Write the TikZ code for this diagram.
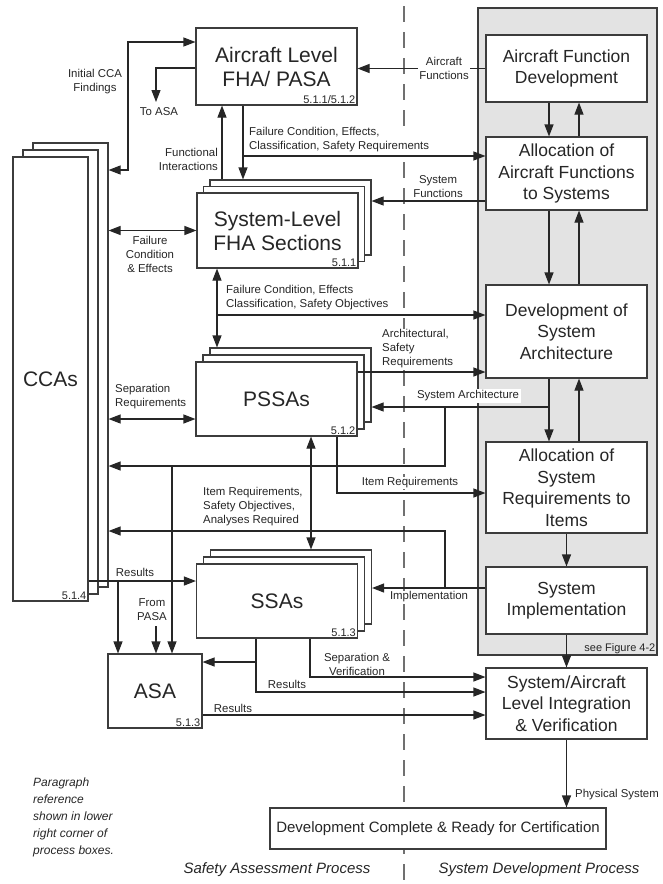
\documentclass[tikz,border=0pt]{standalone}
\usepackage{fontspec}
\setmainfont{Liberation Sans}
\usetikzlibrary{arrows.meta}
\definecolor{ink}{HTML}{262626}
\definecolor{edge}{HTML}{3C3C3C}
\definecolor{panel}{HTML}{E3E3E3}
\definecolor{divider}{HTML}{707070}

\begin{document}
\begin{tikzpicture}[x=1pt,y=-1pt,
  every node/.style={text=ink},
  box/.style={draw=edge, line width=1.1pt, fill=white, inner sep=0pt, align=center},
  bigtxt/.style={font=\fontsize{21}{24}\selectfont},
  midtxt/.style={font=\fontsize{17.5}{21.5}\selectfont},
  lbl/.style={font=\fontsize{11.4}{14}\selectfont, fill=white, inner sep=1pt, align=center},
  ref/.style={font=\fontsize{11}{13}\selectfont, inner sep=2pt, anchor=south east},
  wire/.style={draw=ink, line width=1.1pt},
  arr/.style={wire, -{Triangle[length=12pt,width=9pt]}},
  arrs/.style={wire, {Triangle[length=12pt,width=9pt]}-{Triangle[length=12pt,width=9pt]}},
  caption/.style={font=\fontsize{15}{18}\selectfont\itshape},
]
\useasboundingbox (0,0) rectangle (662,884);

% system development panel
\node[draw=edge, line width=1.1pt, fill=panel, minimum width=179pt, minimum height=647pt, inner sep=0pt] (panel) at (567.5,331.5) {};
\node[ref] at (panel.south east) {see Figure 4-2};

% divider between the two processes
\draw[divider, line width=1.2pt, dash pattern=on 16pt off 10pt] (404,6) -- (404,884);

% connector labels
\node[lbl] at (95,82) {Initial CCA\\Findings};
\node[lbl] at (159,112) {To ASA};
\node[lbl, anchor=east, align=right] at (219,159.5) {Functional\\Interactions};
\node[lbl, anchor=west, align=left] at (248,140) {Failure Condition, Effects,\\Classification, Safety Requirements};
\node[lbl] at (438,187) {System\\Functions};
\node[lbl] at (150,254) {Failure\\Condition\\\& Effects};
\node[lbl, anchor=west, align=left] at (225,297.5) {Failure Condition, Effects\\Classification, Safety Objectives};
\node[lbl, anchor=west, align=left] at (114,397) {Separation\\Requirements};
\node[lbl, anchor=west, align=left] at (381,349) {Architectural,\\Safety\\Requirements};
\node[lbl, inner sep=2pt] at (468,396) {System Architecture};
\node[lbl] at (410,483) {Item Requirements};
\node[lbl, anchor=west, align=left] at (202,506.5) {Item Requirements,\\Safety Objectives,\\Analyses Required};
\node[lbl] at (429,597) {Implementation};
\node[lbl] at (135,572) {Results};
\node[lbl] at (152,610) {From\\PASA};
\node[lbl] at (357,664) {Separation \&\\Verification};
\node[lbl] at (287,684) {Results};
\node[lbl] at (233,708) {Results};
\node[lbl, anchor=west] at (574,795) {Physical System};

% safety assessment boxes
\node[box, minimum width=75pt, minimum height=444pt] (ccaB) at (70.5,365) {};
\node[box, minimum width=75pt, minimum height=444pt] (ccaM) at (60.5,372) {};
\node[box, bigtxt, minimum width=75pt, minimum height=444pt] (cca) at (50.5,379) {CCAs};
\node[ref] at (cca.south east) {5.1.4};

\node[box, bigtxt, minimum width=161pt, minimum height=77pt] (fha) at (276.5,66.5) {Aircraft Level\\FHA/ PASA};
\node[ref] at (fha.south east) {5.1.1/5.1.2};

\node[box, minimum width=161pt, minimum height=75pt] (sfhaB) at (290.5,217.5) {};
\node[box, minimum width=161pt, minimum height=75pt] (sfhaM) at (284,224) {};
\node[box, bigtxt, minimum width=161pt, minimum height=75pt] (sfha) at (277.5,230.5) {System-Level\\FHA Sections};
\node[ref] at (sfha.south east) {5.1.1};

\node[box, minimum width=161pt, minimum height=74pt] (pssaB) at (290.5,385) {};
\node[box, minimum width=161pt, minimum height=74pt] (pssaM) at (283.5,392) {};
\node[box, bigtxt, minimum width=161pt, minimum height=74pt] (pssa) at (276.5,399) {PSSAs};
\node[ref] at (pssa.south east) {5.1.2};

\node[box, minimum width=161pt, minimum height=74pt] (ssaB) at (291,587) {};
\node[box, minimum width=161pt, minimum height=74pt] (ssaM) at (284,594) {};
\node[box, bigtxt, minimum width=161pt, minimum height=74pt] (ssa) at (277,601) {SSAs};
\node[ref] at (ssa.south east) {5.1.3};

\node[box, bigtxt, minimum width=94pt, minimum height=74pt] (asa) at (155,691) {ASA};
\node[ref] at (asa.south east) {5.1.3};

% system development boxes
\node[box, midtxt, minimum width=161pt, minimum height=67pt] (afd) at (566.5,68.5) {Aircraft Function\\Development};
\node[box, midtxt, minimum width=161pt, minimum height=73pt] (aafs) at (566.5,173.5) {Allocation of\\Aircraft Functions\\to Systems};
\node[box, midtxt, minimum width=161pt, minimum height=93pt] (dsa) at (566.5,331.5) {Development of\\System\\Architecture};
\node[box, midtxt, minimum width=161pt, minimum height=91pt] (asri) at (566.5,487.5) {Allocation of\\System\\Requirements to\\Items};
\node[box, midtxt, minimum width=161pt, minimum height=67pt] (si) at (566.5,600.5) {System\\Implementation};
\node[box, midtxt, minimum width=161pt, minimum height=71pt] (int) at (566.5,703.5) {System/Aircraft\\Level Integration\\\& Verification};
\node[box, font=\fontsize{15}{18}\selectfont, minimum width=336pt, minimum height=41pt] (dc) at (438,828.5) {Development Complete \& Ready for Certification};

% column of development steps
\coordinate (dn) at (549,0);
\coordinate (up) at (579,0);
\draw[arr] (dn |- afd.south) -- (dn |- aafs.north);
\draw[arr] (up |- aafs.north) -- (up |- afd.south);
\draw[arr] (dn |- aafs.south) -- (dn |- dsa.north);
\draw[arr] (up |- dsa.north) -- (up |- aafs.south);
\draw[arr] (dn |- dsa.south) -- (dn |- asri.north);
\draw[arr] (up |- asri.north) -- (up |- dsa.south);
\draw[arr] (asri.south) -- (si.north);
\draw[arr] (si.south) -- (int.north);
\draw[arr] (int.south) -- (int.south |- dc.north);

% initial CCA findings
\coordinate (icA) at (128,42);
\coordinate (icB) at (128,170);
\draw[arrs] (icB -| ccaB.east) -- (icB) -- (icA) -- (icA -| fha.west);

% to ASA
\coordinate (ta) at (156,68);
\coordinate (taEnd) at (156,102);
\draw[arr] (ta -| fha.west) -- (ta) -- (taEnd);

% aircraft functions
\draw[arr] (afd.west) -- (afd.west -| fha.east);

% functional interactions
\coordinate (fiU) at (222,0);
\coordinate (fiD) at (243,156);
\draw[arr] (fiU |- sfhaB.north) -- (fiU |- fha.south);
\draw[arr] (fiD |- fha.south) -- (fiD |- sfhaB.north);
\draw[arr] (fiD) -- (fiD -| aafs.west);

% system functions
\coordinate (sf) at (0,201);
\draw[arr] (sf -| aafs.west) -- (sf -| sfhaB.east);

% failure condition and effects
\draw[arrs] (sfha.west -| ccaB.east) -- (sfha.west);

% system FHA to PSSA
\coordinate (fp) at (217,315);
\draw[arrs] (fp |- sfha.south) -- (fp |- pssaB.north);
\draw[arr] (fp) -- (fp -| dsa.west);

% separation requirements
\coordinate (sr) at (0,419);
\draw[arrs] (sr -| ccaB.east) -- (sr -| pssa.west);

% architectural safety requirements
\coordinate (ar) at (0,372);
\draw[arr] (ar -| pssa.east) -- (ar -| dsa.west);

% system architecture
\coordinate (sa1) at (549,407);
\coordinate (sa2) at (445,407);
\coordinate (sa3) at (445,466);
\coordinate (sa4) at (172,466);
\draw[arr] (sa1) -- (sa1 -| pssaB.east);
\draw[arr] (sa2) -- (sa3) -- (sa3 -| ccaB.east);
\draw[arr] (sa4) -- (sa4 |- asa.north);

% item requirements
\coordinate (ir) at (337,493);
\draw[arr] (ir |- pssa.south) -- (ir) -- (ir -| asri.west);

% PSSA to SSA
\coordinate (ps) at (311,0);
\draw[arrs] (ps |- pssa.south) -- (ps |- ssaB.north);

% implementation
\coordinate (im1) at (445,588);
\coordinate (im2) at (445,531);
\draw[arr] (im1 -| si.west) -- (im1 -| ssaB.east);
\draw[arr] (im1) -- (im2) -- (im2 -| ccaB.east);

% CCA results
\coordinate (rs1) at (118,581);
\draw[arr] (rs1 -| cca.east) -- (rs1 -| ssa.west);
\draw[arr] (rs1) -- (rs1 |- asa.north);

% from PASA
\coordinate (fpa) at (156,626);
\draw[arr] (fpa) -- (fpa |- asa.north);

% SSA results
\coordinate (ss1) at (256,662);
\coordinate (ss2) at (256,692);
\draw[arr] (ss2 |- ssa.south) -- (ss2) -- (ss2 -| int.west);
\draw[arr] (ss1) -- (ss1 -| asa.east);

% separation and verification
\coordinate (sv) at (310,677);
\draw[arr] (sv |- ssa.south) -- (sv) -- (sv -| int.west);

% ASA results
\coordinate (ar2) at (0,715);
\draw[arr] (ar2 -| asa.east) -- (ar2 -| int.west);

% label sitting on its own connector
\node[lbl] at (444,68.5) {Aircraft\\Functions};

% notes and process captions
\node[font=\fontsize{12}{17}\selectfont\itshape, anchor=north west, align=left, inner sep=0pt] (note) at (33,778) {Paragraph\\reference\\shown in lower\\right corner of\\process boxes.};
\node[caption] (sap) at (277,870) {Safety Assessment Process};
\node[caption] (sdp) at (539,870) {System Development Process};
\end{tikzpicture}
\end{document}
